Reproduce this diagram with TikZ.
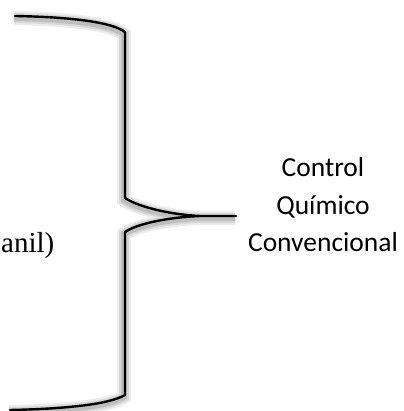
\documentclass[tikz,border=0pt]{standalone}
\usepackage{fontspec}
\setmainfont{Liberation Serif}
\newfontfamily\labelfont{Carlito}
\tikzset{
  bracestroke/.style={
    line width=2.4pt, draw=black, line cap=round, line join=round,
    preaction={draw=black, opacity=0.07, line width=14pt, transform canvas={xshift=-1pt, yshift=-2pt}},
    preaction={draw=black, opacity=0.09, line width=10pt, transform canvas={xshift=-1pt, yshift=-2pt}},
    preaction={draw=black, opacity=0.12, line width=6pt, transform canvas={xshift=-1pt, yshift=-2pt}}
  },
  sidelabel/.style={font=\labelfont\fontsize{27.5}{37.5}\selectfont, align=center, inner sep=0pt},
  cuttext/.style={font=\fontsize{29}{34}\selectfont, inner sep=0pt, anchor=base west}
}
\begin{document}
\begin{tikzpicture}[x=1pt, y=-1pt]
  \useasboundingbox (0,0) rectangle (403,411);
  % curly brace opening to the left, tip pointing right
  \coordinate (topend) at (15,16);
  \coordinate (botend) at (10,410);
  \coordinate (tip) at (236,216);
  \draw[bracestroke]
    (topend) .. controls (70,17) and (112,22) .. (125,32)
    -- (125,198) .. controls (140,208) and (175,215) .. (200,216)
    -- (tip)
    (200,216) .. controls (175,217) and (140,222) .. (125,232)
    -- (125,395) .. controls (108,405) and (60,409) .. (botend);
  % label at the tip
  \node[sidelabel] (ctrl) at (323,205) {Control\\Químico\\Convencional};
  % text on the left
  \node[cuttext] (anil) at (1,252) {anil)};
\end{tikzpicture}
\end{document}
